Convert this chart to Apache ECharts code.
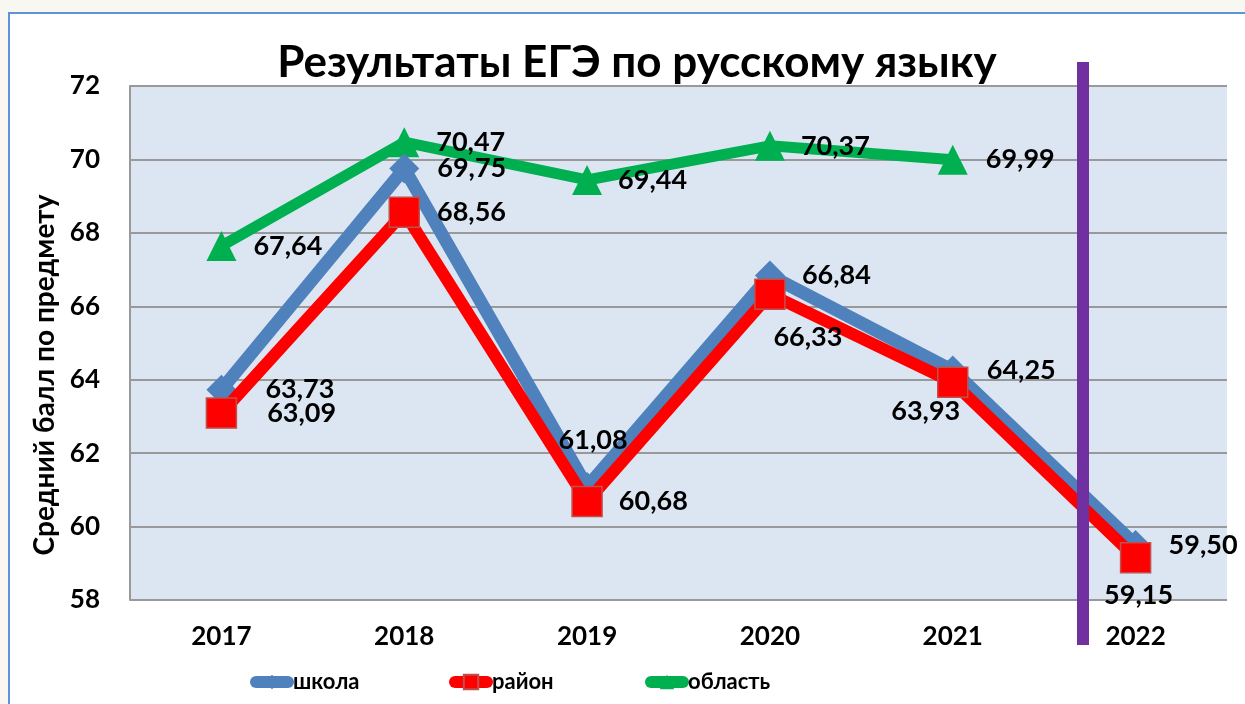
<!DOCTYPE html>
<html>
<head>
<meta charset="utf-8">
<script src="https://cdn.jsdelivr.net/npm/echarts@6/dist/echarts.min.js"></script>
<style>
  html, body { margin: 0; padding: 0; background: #f9f7f2; }
  #frame { position: absolute; left: 8px; top: 12px; width: 1245px; height: 704px;
           background: #fff; border: 2px solid #5b93dc; box-sizing: border-box; }
  #chart { position: absolute; left: 0; top: 0; width: 1245px; height: 704px; }
</style>
</head>
<body>
<div id="frame"></div>
<div id="chart"></div>
<script>
// данные по годам
var years  = ['2017', '2018', '2019', '2020', '2021', '2022'];
var school = [63.73, 69.75, 61.08, 66.84, 64.25, 59.50];
var rayon  = [63.09, 68.56, 60.68, 66.33, 63.93, 59.15];
var oblast = [67.64, 70.47, 69.44, 70.37, 69.99];

// подписи значений: сторона, отступ, сдвиг
var schoolPos  = ['right', 'right', 'top', 'right', 'right', 'right'];
var schoolDist = [29, 18, 18, 17, 19, 18];
var schoolOff  = [[0, 0], [0, 0], [6, 0], [0, 0], [0, 0], [0, 0]];
var rayonPos   = ['right', 'right', 'right', 'bottom', 'bottom', 'bottom'];
var rayonDist  = [30, 17, 16, 14, 0, 8];
var rayonOff   = [[0, 0], [0, 0], [0, 0], [38, 0], [-27, 0], [3, 0]];
var oblastPos  = ['right', 'right', 'right', 'right', 'right'];
var oblastDist = [17, 17, 16, 16, 18];

var fontName = 'Lato';
var W = 'bold';

function fmt(v) { return v.toFixed(2).replace('.', ','); }

function withLabels(vals, pos, dist, offs) {
    return vals.map(function(v, i) {
        return { value: v, label: { position: pos[i], distance: dist[i], offset: offs ? offs[i] : [0, 0] } };
    });
}

var labelStyle = {
    show: true, fontFamily: fontName, fontWeight: W, fontSize: 27, color: '#000',
    formatter: function(p) { return fmt(p.value); }
};

function legendAt(name, x) {
    return {
        data: [name], left: x, bottom: 6, itemWidth: 32, itemHeight: 18, itemGap: 2,
        lineStyle: { width: 12, cap: 'round' },
        textStyle: { fontFamily: fontName, fontWeight: W, fontSize: 22, color: '#000' }
    };
}

var chart = echarts.init(document.getElementById('chart'));
chart.setOption({
    backgroundColor: 'transparent',
    title: {
        text: 'Результаты ЕГЭ по русскому языку',
        left: 632, textAlign: 'center', top: 36,
        textStyle: { fontFamily: fontName, fontWeight: W, fontSize: 44, color: '#000' }
    },
    grid: { left: 130, right: 18, top: 86, bottom: 104, show: true, backgroundColor: '#dce6f2', borderWidth: 0 },
    legend: [legendAt('школа', 245), legendAt('район', 444), legendAt('область', 640)],
    xAxis: {
        type: 'category', data: years,
        axisLine: { show: false }, axisTick: { show: false },
        axisLabel: { fontFamily: fontName, fontWeight: W, fontSize: 26, color: '#000', margin: 24 }
    },
    yAxis: {
        type: 'value', min: 58, max: 72, interval: 2,
        name: 'Средний балл по предмету', nameLocation: 'middle', nameGap: 68,
        nameTextStyle: { fontFamily: fontName, fontWeight: W, fontSize: 28, color: '#000', padding: [0, 64, 0, 0] },
        axisLine: { show: true, lineStyle: { color: '#999', width: 2 } },
        axisTick: { show: false },
        splitLine: { lineStyle: { color: '#999', width: 2 } },
        axisLabel: { fontFamily: fontName, fontWeight: W, fontSize: 26, color: '#000', margin: 30 }
    },
    series: [
        {
            name: 'область', type: 'line', z: 3,
            data: withLabels(oblast, oblastPos, oblastDist),
            symbol: 'triangle', symbolSize: 30,
            lineStyle: { color: '#00b050', width: 11 },
            itemStyle: { color: '#00b050' },
            label: labelStyle
        },
        {
            name: 'школа', type: 'line', z: 4,
            data: withLabels(school, schoolPos, schoolDist, schoolOff),
            symbol: 'diamond', symbolSize: 30,
            lineStyle: { color: '#4f81bd', width: 13 },
            itemStyle: { color: '#4f81bd' },
            label: labelStyle
        },
        {
            name: 'район', type: 'line', z: 5,
            data: withLabels(rayon, rayonPos, rayonDist, rayonOff),
            symbol: 'rect', symbolSize: 30,
            lineStyle: { color: '#ff0000', width: 12 },
            itemStyle: { color: '#ff0000', borderColor: '#c0504d', borderWidth: 1.5 },
            label: labelStyle
        }
    ],
    graphic: [{
        type: 'line', z: 100,
        shape: { x1: 1083, y1: 62, x2: 1083, y2: 645 },
        style: { stroke: '#7030a0', lineWidth: 12 }
    }]
});
</script>
</body>
</html>
